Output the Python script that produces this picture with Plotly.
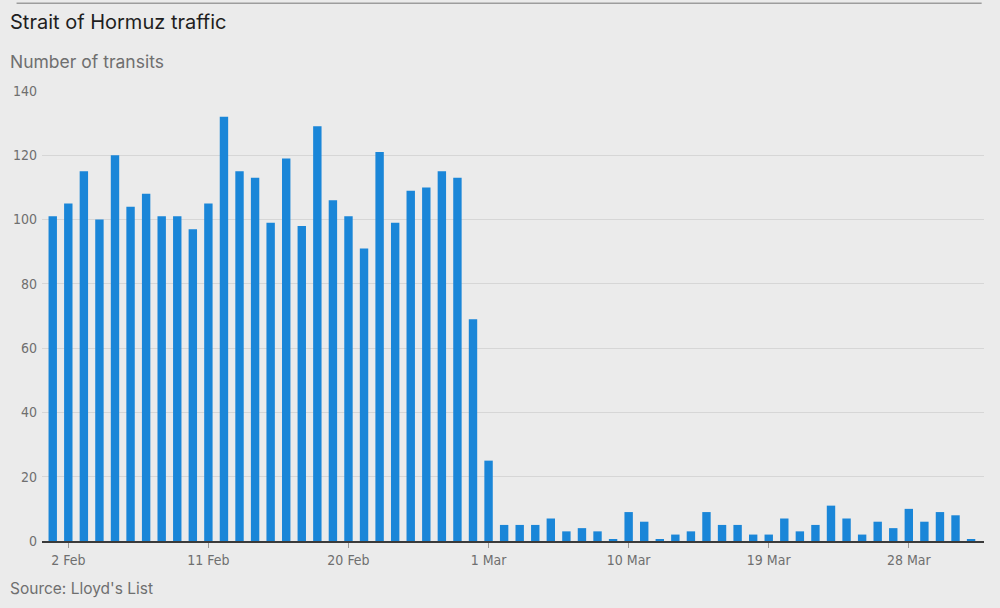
import pandas as pd
import plotly.graph_objects as go

# daily transits, 1 Feb - 1 Apr
dates = pd.date_range("2026-02-01", "2026-04-01", freq="D")
feb_transits = [101, 105, 115, 100, 120, 104, 108, 101, 101, 97, 105, 132, 115, 113,
                99, 119, 98, 129, 106, 101, 91, 121, 99, 109, 110, 115, 113, 69]
mar_transits = [25, 5, 5, 5, 7, 3, 4, 3, 0.4, 9, 6, 0.4, 2, 3, 9, 5, 5, 2, 2, 7,
                3, 5, 11, 7, 2, 6, 4, 10, 6, 9, 8]
apr_transits = [0.4]
transits = feb_transits + mar_transits + apr_transits

tick_dates = ["2026-02-02", "2026-02-11", "2026-02-20", "2026-03-01",
              "2026-03-10", "2026-03-19", "2026-03-28"]
tick_labels = ["2 Feb", "11 Feb", "20 Feb", "1 Mar", "10 Mar", "19 Mar", "28 Mar"]
y_ticks = [0, 20, 40, 60, 80, 100, 120, 140]

bg = "#ebebeb"
grey_text = "#6f6f6f"
tick_font = "DejaVu Sans Condensed, Liberation Sans Narrow, sans-serif"
text_font = "Inter, Open Sans, sans-serif"

day = pd.Timedelta(days=1)
x_start = dates[0] - 0.69 * day
x_end = dates[-1] + 0.83 * day

fig = go.Figure()
fig.add_trace(go.Bar(
    x=dates,
    y=transits,
    width=0.54 * 86400000,
    marker=dict(color="#1a86d8", line=dict(width=0)),
    hovertemplate="%{x|%d %b}: %{y}<extra></extra>",
))

fig.update_layout(
    width=1000, height=608,
    paper_bgcolor=bg, plot_bgcolor=bg,
    margin=dict(l=42, r=16, t=91, b=67),
    showlegend=False,
    xaxis=dict(
        type="date",
        range=[x_start, x_end],
        tickvals=tick_dates,
        ticktext=tick_labels,
        ticks="outside", ticklen=5, tickcolor="#9a9a9a", tickwidth=1,
        tickfont=dict(family=tick_font, size=14, color=grey_text),
        showgrid=False,
        showline=True, linecolor="#3a3a3a", linewidth=2,
        zeroline=False,
    ),
    yaxis=dict(
        range=[0, 140],
        tickvals=y_ticks,
        tickfont=dict(family=tick_font, size=14, color=grey_text),
        gridcolor="#d6d6d6", gridwidth=1,
        zeroline=False,
        showline=False,
        ticks="",
        ticklabelstandoff=4,
    ),
    font=dict(family=text_font),
)

# rule across the top
fig.add_shape(type="line", xref="paper", yref="paper",
              x0=-0.027, x1=0.9975, y0=1.195, y1=1.195,
              line=dict(color="#9d9d9d", width=1.5))

fig.add_annotation(text="Strait of Hormuz traffic", xref="paper", yref="paper",
                   x=-0.036, y=1.153, xanchor="left", yanchor="middle", showarrow=False,
                   font=dict(family=text_font, size=20, color="#1e1e1e"))
fig.add_annotation(text="Number of transits", xref="paper", yref="paper",
                   x=-0.036, y=1.065, xanchor="left", yanchor="middle", showarrow=False,
                   font=dict(family=text_font, size=17.5, color=grey_text))
fig.add_annotation(text="Source: Lloyd's List", xref="paper", yref="paper",
                   x=-0.036, y=-0.105, xanchor="left", yanchor="middle", showarrow=False,
                   font=dict(family=text_font, size=15.5, color=grey_text))

# drop the page margin so the figure fills the window
fig.write_html("out.html", config={"displayModeBar": False},
               post_script="document.body.style.margin='0';")
